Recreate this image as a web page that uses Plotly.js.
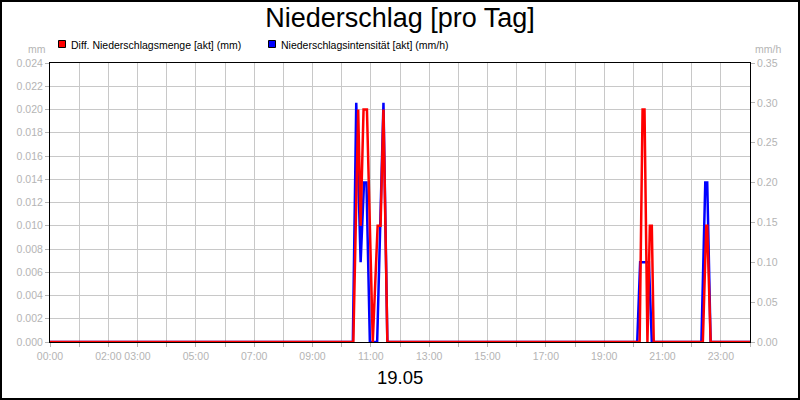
<!DOCTYPE html>
<html>
<head>
<meta charset="utf-8">
<script src="https://cdn.plot.ly/plotly-3.0.1.min.js"></script>
<style>html,body{margin:0;padding:0;background:#fff}#chart{width:800px;height:400px}</style>
</head>
<body>
<div id="chart"></div>
<script>
// ---- data ----
var seriesNames = ["Diff. Niederschlagsmenge [akt] (mm)", "Niederschlagsintensität [akt] (mm/h)"];
var mengeTimes = ["00:00","10:24","10:34","10:39","10:45","10:52","11:04","11:14","11:20","11:26","11:34",
                  "20:13","20:19","20:23","20:29","20:34","20:38","20:42","22:23","22:30","22:32","22:39","24:00"];
var mengeValues = [0,0,0.020,0.010,0.020,0.020,0,0.010,0.010,0.020,0,
                   0,0.020,0.020,0,0.010,0.010,0,0,0.010,0.010,0,0];
var intensTimes = ["00:00","10:23","10:30","10:39","10:46","10:51","10:58","11:13","11:26","11:34",
                   "20:08","20:14","20:26","20:32","20:38","22:20","22:28","22:32","22:39","24:00"];
var intensValues = [0,0,0.30,0.10,0.20,0.20,0,0,0.30,0,
                    0,0.10,0.10,0.10,0,0,0.20,0.20,0,0];
var hourTicks = [0,1,2,3,4,5,6,7,8,9,10,11,12,13,14,15,16,17,18,19,20,21,22,23,24];
var hourLabels = ["00:00","","02:00","03:00","","05:00","","07:00","","09:00","","11:00","","13:00","","15:00","","17:00","","19:00","","21:00","","23:00",""];
var chartTitle = "Niederschlag [pro Tag]";
var dateLabel = "19.05";
var leftUnit = "mm", rightUnit = "mm/h";

function toHours(t){ var p = t.split(":"); return +p[0] + (+p[1])/60; }

// plot area in pixels: x 50..750, y 63..342
function px(x){ return (x-50)/700; }
function py(y){ return (342-y)/279; }

var FONT = "Liberation Sans, Arial, sans-serif";
var GRAY = "#b4b4b4";
var GRID = "#c8c8c8";

// intensity on the base (right) axis, amount on the overlaying (left) axis so red is drawn on top
var traces = [
  {x: intensTimes.map(toHours), y: intensValues, type: "scatter", mode: "lines",
   name: seriesNames[1], yaxis: "y", line: {color: "#0000ff", width: 2.5}, hoverinfo: "skip"},
  {x: mengeTimes.map(toHours), y: mengeValues, type: "scatter", mode: "lines",
   name: seriesNames[0], yaxis: "y2", line: {color: "#ff0000", width: 2.5}, hoverinfo: "skip"}
];

var layout = {
  width: 800, height: 400,
  margin: {l: 50, r: 50, t: 63, b: 58},
  paper_bgcolor: "#ffffff", plot_bgcolor: "#ffffff",
  showlegend: false,
  font: {family: FONT, size: 10.5, color: GRAY},
  title: {text: chartTitle, font: {family: FONT, size: 27, color: "#000"},
          x: 0.5, xanchor: "center", xref: "paper", y: 1 - 18/400, yanchor: "middle", yref: "container"},
  xaxis: {range: [0, 24], tickmode: "array", tickvals: hourTicks, ticktext: hourLabels,
          showgrid: true, gridcolor: GRID, gridwidth: 1, zeroline: false,
          showline: true, linecolor: "#000", linewidth: 1, mirror: true,
          ticks: "outside", ticklen: 4, tickcolor: GRAY, tickangle: 0,
          tickfont: {family: FONT, size: 10.5, color: GRAY}},
  yaxis: {range: [0, 0.35], dtick: 0.05, tick0: 0, tickformat: ".2f",
          side: "right", showgrid: false, zeroline: false,
          showline: true, linecolor: "#000", linewidth: 1, mirror: true,
          ticks: "outside", ticklen: 4, tickcolor: GRAY,
          tickfont: {family: FONT, size: 10.5, color: GRAY}},
  yaxis2: {range: [0, 0.024], dtick: 0.002, tick0: 0, tickformat: ".3f",
           overlaying: "y", side: "left",
           showgrid: true, gridcolor: GRID, gridwidth: 1, zeroline: false,
           showline: false, ticks: "outside", ticklen: 4, tickcolor: GRAY,
           tickfont: {family: FONT, size: 10.5, color: GRAY}},
  shapes: [
    {type: "rect", xref: "paper", yref: "paper", x0: px(58.5), x1: px(65.5), y0: py(47.5), y1: py(40.5),
     fillcolor: "#ff0000", line: {color: "#000", width: 1}},
    {type: "rect", xref: "paper", yref: "paper", x0: px(268.5), x1: px(275.5), y0: py(47.5), y1: py(40.5),
     fillcolor: "#0000ff", line: {color: "#000", width: 1}},
    {type: "rect", xref: "paper", yref: "paper", x0: px(1), x1: px(799), y0: py(399), y1: py(1),
     fillcolor: "rgba(0,0,0,0)", line: {color: "#000", width: 2}}
  ],
  annotations: [
    {text: seriesNames[0], xref: "paper", yref: "paper", x: px(69), y: py(44.5), xanchor: "left", yanchor: "middle",
     showarrow: false, font: {family: FONT, size: 10.5, color: "#000"}},
    {text: seriesNames[1], xref: "paper", yref: "paper", x: px(279), y: py(44.5), xanchor: "left", yanchor: "middle",
     showarrow: false, font: {family: FONT, size: 10.5, color: "#000"}},
    {text: leftUnit, xref: "paper", yref: "paper", x: px(48), y: py(49), xanchor: "right", yanchor: "middle",
     showarrow: false, font: {family: FONT, size: 10.5, color: GRAY}},
    {text: rightUnit, xref: "paper", yref: "paper", x: px(753), y: py(49), xanchor: "left", yanchor: "middle",
     showarrow: false, font: {family: FONT, size: 10.5, color: GRAY}},
    {text: dateLabel, xref: "paper", yref: "paper", x: 0.5, y: py(378), xanchor: "center", yanchor: "middle",
     showarrow: false, font: {family: FONT, size: 18.5, color: "#000"}}
  ]
};

Plotly.newPlot("chart", traces, layout, {staticPlot: true, displayModeBar: false});
</script>
</body>
</html>
